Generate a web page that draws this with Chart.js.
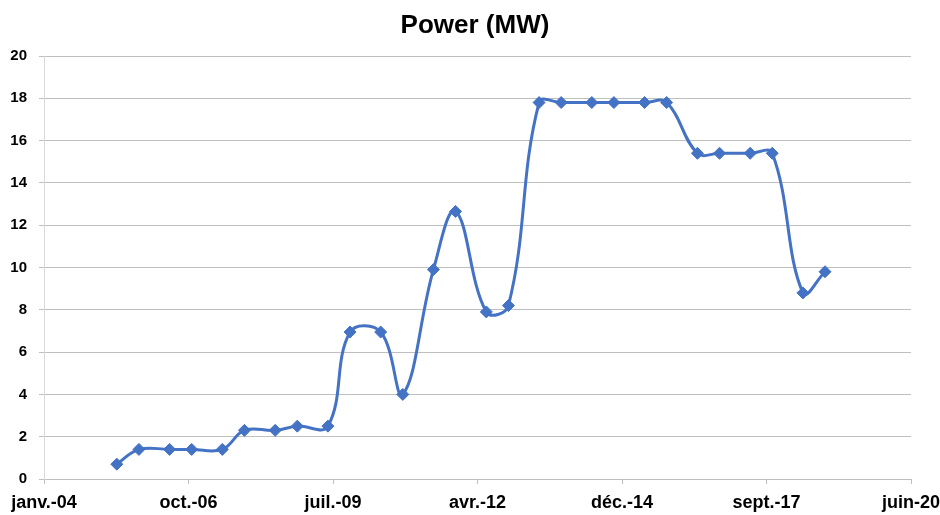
<!DOCTYPE html>
<html lang="fr">
<head>
<meta charset="utf-8">
<title>Power (MW)</title>
<script src="https://cdn.jsdelivr.net/npm/chart.js@4.4.1/dist/chart.umd.min.js"></script>
<style>
    html, body { margin: 0; padding: 0; background: #ffffff; }
    #powerChart { display: block; }
</style>
</head>
<body>
<canvas id="powerChart" width="940" height="515"></canvas>
<script>
// Relevés semestriels (juin / novembre)
const dates = [
    '2005-06-01', '2005-11-01', '2006-06-01', '2006-11-01',
    '2007-06-01', '2007-11-01', '2008-06-01', '2008-11-01',
    '2009-06-01', '2009-11-01', '2010-06-01', '2010-11-01',
    '2011-06-01', '2011-11-01', '2012-06-01', '2012-11-01',
    '2013-06-01', '2013-11-01', '2014-06-01', '2014-11-01',
    '2015-06-01', '2015-11-01', '2016-06-01', '2016-11-01',
    '2017-06-01', '2017-11-01', '2018-06-01', '2018-11-01'
];
const power = [
    0.7, 1.4, 1.4, 1.4,
    1.4, 2.3, 2.3, 2.5,
    2.5, 6.95, 6.95, 4.0,
    9.9, 12.65, 7.9, 8.2,
    17.8, 17.8, 17.8, 17.8,
    17.8, 17.8, 15.4, 15.4,
    15.4, 15.4, 8.8, 9.8
];
const tickLabels = ['janv.-04', 'oct.-06', 'juil.-09', 'avr.-12', 'déc.-14', 'sept.-17', 'juin-20'];

// axe des dates en numéros de série (jours) comme dans Excel
const X_MIN = 38000;
const X_MAX = 44000;
const X_STEP = 1000;

function toSerial(d) {
    return Date.parse(d) / 86400000 + 25569;
}

const FONT = "'Liberation Sans', Arial, sans-serif";
const BLUE = '#4472C4';

const points = dates.map((d, i) => ({ x: toSerial(d), y: power[i] }));

new Chart(document.getElementById('powerChart'), {
    type: 'line',
    data: {
        datasets: [{
            label: 'Power (MW)',
            data: points,
            borderColor: BLUE,
            backgroundColor: BLUE,
            borderWidth: 3,
            tension: 0.4,
            pointStyle: 'rectRot',
            pointRadius: 6,
            pointBorderWidth: 1,
            pointBackgroundColor: BLUE,
            pointBorderColor: BLUE
        }]
    },
    options: {
        responsive: false,
        animation: false,
        devicePixelRatio: 1,
        layout: { padding: { top: 0, right: 0, bottom: 0, left: 10 } },
        plugins: {
            legend: { display: false },
            tooltip: { enabled: false },
            title: {
                display: true,
                text: 'Power (MW)',
                color: '#000000',
                font: { family: FONT, size: 26, weight: 'bold' },
                padding: { top: 10, bottom: 14.8 }
            }
        },
        scales: {
            x: {
                type: 'linear',
                min: X_MIN,
                max: X_MAX,
                ticks: {
                    stepSize: X_STEP,
                    autoSkip: false,
                    maxRotation: 0,
                    color: '#000000',
                    padding: 8,
                    font: { family: FONT, size: 18, weight: 'bold' },
                    callback: (value, index) => tickLabels[index]
                },
                grid: {
                    drawOnChartArea: false,
                    tickLength: 5,
                    color: '#bfbfbf'
                },
                border: { color: '#bfbfbf' },
                // marge fixe à droite pour le dernier libellé
                afterFit: scale => {
                    scale.height = 36;
                    scale.paddingLeft = 0;
                    scale.paddingRight = 29;
                }
            },
            y: {
                min: 0,
                max: 20,
                ticks: {
                    stepSize: 2,
                    color: '#000000',
                    padding: 12,
                    font: { family: FONT, size: 15, weight: 'bold' }
                },
                grid: {
                    color: '#bfbfbf',
                    tickLength: 5
                },
                border: { color: '#d9d9d9' },
                afterFit: scale => { scale.width = 34; }
            }
        }
    }
});
</script>
</body>
</html>
